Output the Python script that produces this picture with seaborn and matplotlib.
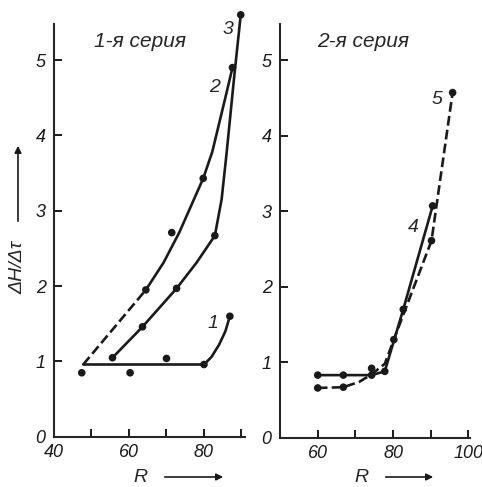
"""Две серии: зависимость ΔH/Δτ от R."""
import pandas as pd
import matplotlib.pyplot as plt
from matplotlib.patches import FancyArrowPatch
import seaborn as sns

# 1-я серия, кривая 1
c1_x = [47.8, 60, 70, 80, 82, 84, 85.7, 86.9]
c1_y = [0.96, 0.96, 0.96, 0.96, 1.06, 1.22, 1.4, 1.6]
c1_px = [47.4, 60.3, 70, 80, 86.9]
c1_py = [0.85, 0.85, 1.04, 0.96, 1.6]

# кривая 2 (начало пунктиром)
c2_dash_x = [47.8, 64.5]
c2_dash_y = [0.96, 1.95]
c2_x = [64.5, 69.2, 73.4, 79.8, 82.2, 85.6, 87.6]
c2_y = [1.95, 2.31, 2.71, 3.43, 3.78, 4.48, 4.9]
c2_px = [64.5, 71.4, 79.8, 87.6]
c2_py = [1.95, 2.71, 3.43, 4.9]

# кривая 3
c3_x = [55.6, 63.6, 72.7, 78, 82.9, 84.7, 86, 88, 89.8]
c3_y = [1.05, 1.46, 1.97, 2.31, 2.67, 3.15, 3.75, 4.75, 5.6]
c3_px = [55.6, 63.6, 72.7, 82.9, 89.8]
c3_py = [1.05, 1.46, 1.97, 2.67, 5.6]

# 2-я серия, кривая 4
c4_x = [60, 66.8, 74.3, 77.8, 82.7, 90.5]
c4_y = [0.83, 0.83, 0.83, 0.88, 1.7, 3.07]
c4_px = [60, 66.8, 74.3, 77.8, 82.7, 90.5]
c4_py = [0.83, 0.83, 0.83, 0.88, 1.7, 3.07]

# кривая 5 (пунктир)
c5_x = [60, 66.8, 71, 74.3, 77.8, 80.2, 90.2, 95.8]
c5_y = [0.66, 0.67, 0.74, 0.84, 0.98, 1.3, 2.61, 4.57]
c5_px = [60, 66.8, 74.3, 80.2, 90.2, 95.8]
c5_py = [0.66, 0.67, 0.92, 1.3, 2.61, 4.57]

left_xticks = [40, 50, 60, 70, 80, 90]
left_xlabels = ['40', '', '60', '', '80', '']
right_xticks = [60, 70, 80, 90, 100]
right_xlabels = ['60', '', '80', '', '100']
yticks = [0, 1, 2, 3, 4, 5]

sns.set_style("ticks")
plt.rcParams['font.family'] = ['Liberation Sans', 'DejaVu Sans']
plt.rcParams['font.style'] = 'italic'

ink = '#1a1a1a'
fig = plt.figure(figsize=(4.82, 4.87), dpi=100)
ax1 = fig.add_axes([0.112, 0.103, 0.396, 0.848])
ax2 = fig.add_axes([0.581, 0.101, 0.394, 0.850])


def draw(ax, x, y, px, py, dashed=False):
    df = pd.DataFrame({'x': x, 'y': y})
    sns.lineplot(data=df, x='x', y='y', ax=ax, color=ink, lw=1.9,
                 sort=False, linestyle='--' if dashed else '-',
                 estimator=None, clip_on=False)
    if px:
        dp = pd.DataFrame({'x': px, 'y': py})
        sns.scatterplot(data=dp, x='x', y='y', ax=ax, color=ink, s=30,
                        edgecolor='none', zorder=5, clip_on=False)


draw(ax1, c1_x, c1_y, c1_px, c1_py)
draw(ax1, c2_dash_x, c2_dash_y, [], [], dashed=True)
draw(ax1, c2_x, c2_y, c2_px, c2_py)
draw(ax1, c3_x, c3_y, c3_px, c3_py)
draw(ax2, c4_x, c4_y, c4_px, c4_py)
draw(ax2, c5_x, c5_y, c5_px, c5_py, dashed=True)

for ax in (ax1, ax2):
    sns.despine(ax=ax)
    ax.spines['left'].set_linewidth(1.5)
    ax.spines['bottom'].set_linewidth(1.5)
    ax.set_ylim(0, 5.48)
    ax.set_yticks(yticks)
    ax.set_yticklabels([str(t) for t in yticks])
    ax.tick_params(direction='in', length=6, width=1.4, labelsize=13,
                   colors=ink)
    ax.tick_params(axis='y', pad=6)
    ax.tick_params(axis='x', pad=5)
    ax.set_xlabel('')
    ax.set_ylabel('')
    ax.patch.set_alpha(0)

ax1.set_xlim(40, 90.9)
ax1.set_xticks(left_xticks)
ax1.set_xticklabels(left_xlabels)
ax2.set_xlim(50, 100.4)
ax2.set_xticks(right_xticks)
ax2.set_xticklabels(right_xlabels)

ax1.text(62.9, 5.25, '1-я серия', fontsize=15, ha='center', va='center')
ax2.text(72, 5.24, '2-я серия', fontsize=15, ha='center', va='center')

ax1.text(82.4, 1.5, '1', fontsize=14, ha='center', va='center')
ax1.text(82.9, 4.63, '2', fontsize=14, ha='center', va='center')
ax1.text(86.4, 5.4, '3', fontsize=14, ha='center', va='center')
ax2.text(85.3, 2.78, '4', fontsize=14, ha='center', va='center')
ax2.text(91.7, 4.48, '5', fontsize=14, ha='center', va='center')

# подписи осей со стрелками
fig.text(18 / 482, 1 - 267 / 487, 'ΔH/Δτ', rotation=90, fontsize=14,
         ha='center', va='center')
fig.add_artist(FancyArrowPatch(
    (18 / 482, 1 - 224 / 487), (18 / 482, 1 - 143 / 487),
    transform=fig.transFigure, arrowstyle='-|>', mutation_scale=10,
    lw=1.2, color=ink))
for rx, a0, a1 in [(140, 162, 226), (361, 383, 436)]:
    fig.text(rx / 482, 1 - 478 / 487, 'R', fontsize=14, ha='center',
             va='center')
    fig.add_artist(FancyArrowPatch(
        (a0 / 482, 1 - 477 / 487), (a1 / 482, 1 - 477 / 487),
        transform=fig.transFigure, arrowstyle='-|>', mutation_scale=10,
        lw=1.2, color=ink))

fig.savefig('out.png', dpi=100)
